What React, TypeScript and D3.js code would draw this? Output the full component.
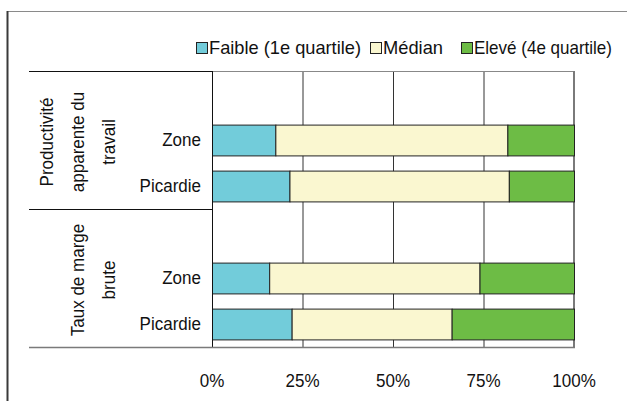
import React from 'react';
import * as d3 from 'd3';

// groupes (libellés sur plusieurs lignes) et lignes de chaque groupe
const groups = [
  ['Productivité', 'apparente du', 'travail'],
  ['Taux de marge', 'brute'],
];
const rows = ['Zone', 'Picardie'];
const series = ['Faible (1e quartile)', 'Médian', 'Elevé (4e quartile)'];
const colors = ['#72CCDA', '#FAF7D0', '#6DBC45'];

// parts en %, dans l'ordre : Prod/Zone, Prod/Picardie, Taux/Zone, Taux/Picardie
const faible = [17.5, 21.4, 15.8, 22.0];
const median = [64.1, 60.6, 58.1, 44.2];
const eleve = [18.4, 18.0, 26.1, 33.8];
const ticks = [0, 25, 50, 75, 100];

const W = 627, H = 401;
const font = '"Liberation Sans", Arial, sans-serif';

// texte un peu étroit et haut, comme dans l'original
function T({ x, y, rot = 0, anchor = 'start', base = 'auto', children }: any) {
  return (
    <text transform={`translate(${x},${y}) rotate(${rot}) scale(0.92,1)`} textAnchor={anchor}
      dominantBaseline={base} fontSize={18.5} fill="#111">{children}</text>
  );
}

export default function App() {
  const left = 212, right = 574, top = 71, bottom = 347;
  const labelLeft = 29;

  // 3 emplacements par groupe : un vide puis Zone, Picardie
  const slots = groups.flatMap((g, gi) => [`${gi}-`, ...rows.map(r => `${gi}-${r}`)]);
  const y = d3.scaleBand().domain(slots).range([top, bottom]).paddingInner(0.33).paddingOuter(0.165);
  const x = d3.scaleLinear().domain([0, 100]).range([left, right]);

  const table = groups.flatMap((g, gi) => rows.map((r, ri) => {
    const i = gi * rows.length + ri;
    return { key: `${gi}-${r}`, label: r, Faible: faible[i], Median: median[i], Eleve: eleve[i] };
  }));
  const stack = d3.stack().keys(['Faible', 'Median', 'Eleve'])(table as any);

  const step = y.step();
  const legendX = [196, 370, 461];
  const legendW = [152, 60, 138];

  return (
    <svg width={W} height={H} style={{ position: 'absolute', left: 0, top: 0, fontFamily: font }}>
      {/* cadre */}
      <line x1={7} x2={W} y1={11.5} y2={11.5} stroke="#8a8a8a" strokeWidth={1} />
      <line x1={7.5} x2={7.5} y1={11} y2={H} stroke="#3a3a3a" strokeWidth={2} />

      {/* légende */}
      {series.map((s, i) => (
        <g key={s}>
          <rect x={legendX[i] + 0.5} y={42.5} width={11} height={11} fill={colors[i]} stroke="#222" />
          <text x={legendX[i] + 13} y={54} fontSize={18.5} fill="#111" textLength={legendW[i]}
            lengthAdjust="spacingAndGlyphs">{s}</text>
        </g>
      ))}

      {/* grille */}
      {ticks.slice(1, -1).map(t => (
        <line key={t} x1={x(t) + 0.5} x2={x(t) + 0.5} y1={top} y2={bottom} stroke="#333" />
      ))}
      <line x1={left} x2={right} y1={top + 0.5} y2={top + 0.5} stroke="#888" />
      <line x1={right} x2={right} y1={top} y2={bottom + 1} stroke="#7a7a7a" strokeWidth={2} />

      {/* barres */}
      {stack.map((layer, si) => (
        <g key={layer.key}>
          {layer.map((d: any) => (
            <rect key={d.data.key} x={x(d[0]) + 0.5} y={(y(d.data.key) as number) + 0.5}
              width={x(d[1]) - x(d[0])} height={y.bandwidth()}
              fill={colors[si]} stroke="#222" strokeWidth={1} />
          ))}
        </g>
      ))}

      {/* axe vertical et séparateurs de groupes */}
      <line x1={left + 0.5} x2={left + 0.5} y1={top} y2={bottom} stroke="#111" />
      {groups.map((g, gi) => (
        <line key={gi} x1={labelLeft} x2={left} y1={top + gi * 3 * step + 0.5} y2={top + gi * 3 * step + 0.5} stroke="#111" />
      ))}
      <line x1={labelLeft} x2={right + 1} y1={bottom + 0.5} y2={bottom + 0.5} stroke="#7a7a7a" strokeWidth={1.5} />

      {/* libellés des lignes */}
      {table.map(d => (
        <T key={d.key} x={201} y={(y(d.key) as number) + y.bandwidth() / 2} anchor="end" base="central">{d.label}</T>
      ))}

      {/* libellés des groupes (verticaux) */}
      {groups.map((g, gi) => {
        const cy = top + (gi * 3 + 1.5) * step + 2;
        return g.map((line, li) => {
          const cx = 109 - (g.length - 1 - li) * 31;
          return <T key={`${gi}-${li}`} x={cx} y={cy} rot={-90} anchor="middle" base="central">{line}</T>;
        });
      })}

      {/* graduations */}
      {ticks.map(t => (
        <T key={t} x={x(t)} y={387} anchor="middle">{t}%</T>
      ))}
    </svg>
  );
}
